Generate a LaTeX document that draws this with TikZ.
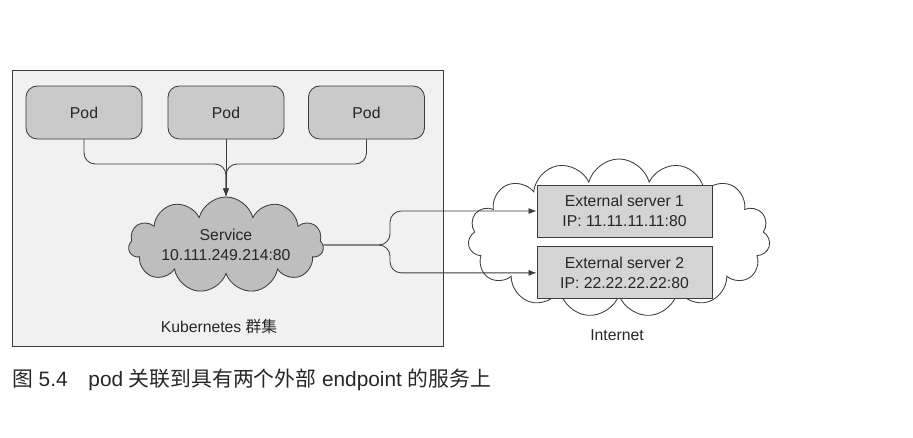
\documentclass[tikz,border=0pt]{standalone}
\usepackage{fontspec}
\setmainfont{Liberation Sans}
\newfontfamily\cjk{Noto Sans CJK SC}
\usepackage{tikz}
\usetikzlibrary{arrows.meta}
\usetikzlibrary{positioning}
\usetikzlibrary{shapes}
\definecolor{linegray}{HTML}{3C3C3C}
\definecolor{clusterfill}{HTML}{F1F1F1}
\definecolor{podfill}{HTML}{CACACA}
\definecolor{svcfill}{HTML}{BEBEBE}
\definecolor{srvfill}{HTML}{D4D4D4}
\tikzstyle{pod}=[draw=linegray,fill=podfill,rounded corners=8pt,minimum width=2.9cm,minimum height=1.325cm,inner sep=1pt]
\tikzstyle{server}=[draw=linegray,fill=srvfill,minimum width=4.375cm,minimum height=1.3cm,align=center,inner sep=1pt]

\begin{document}
\begin{tikzpicture}[x=0.025cm,y=-0.025cm,line width=0.6pt,font=\fontsize{11.2}{13.8}\selectfont,text=black!85]
\tikzstyle{puffy}=[draw=linegray,cloud,cloud puffs=11,cloud ignores aspect,inner sep=0pt,align=center]
\useasboundingbox (0,0) rectangle (913,437);
\node [draw=linegray,fill=clusterfill,minimum width=10.775cm,minimum height=6.9cm] (k8s) at (227.5,208) {};
\node [pod] (p1) at (84,112.5) {Pod};
\node [pod] (p2) at (226,112.5) {Pod};
\node [pod] (p3) at (366.5,112.5) {Pod};
\node [puffy,fill=svcfill,minimum width=4.875cm,minimum height=2.4cm] (svc) at (226,245) {Service\\10.111.249.214:80};
\node (k8slabel) at (219,326) {Kubernetes {\cjk 群集}};

\node [puffy,fill=white,cloud puffs=15,minimum width=7.55cm,minimum height=3.95cm] (net) at (619,238) {};
\node [server] (s1) at (624.5,211) {External server 1\\IP: 11.11.11.11:80};
\node [server,below=0.225cm of s1] (s2) {External server 2\\IP: 22.22.22.22:80};
\node (netlabel) at (617,335) {Internet};

\coordinate (join) at (p2.south |- 0,164);
\coordinate (split) at (390,0 |- svc.east);
\draw[->,>=Latex,draw=linegray,rounded corners=8pt] (p1.south) |- (join) -- (svc.north);
\draw[->,>=Latex,draw=linegray,rounded corners=8pt] (p3.south) |- (join) -- (svc.north);
\draw[->,>=Latex,draw=linegray] (p2.south) -- (svc.north);
\draw[->,>=Latex,draw=linegray,rounded corners=8pt] (svc.east) -- (split) |- (s1.west);
\draw[->,>=Latex,draw=linegray,rounded corners=8pt] (svc.east) -- (split) |- (s2.west);

\node [anchor=west,font=\fontsize{14.8}{17}\selectfont] (caption) at (7,380) {{\cjk 图} 5.4\hspace{1em}pod {\cjk 关联到具有两个外部} endpoint {\cjk 的服务上}};
\end{tikzpicture}
\end{document}
